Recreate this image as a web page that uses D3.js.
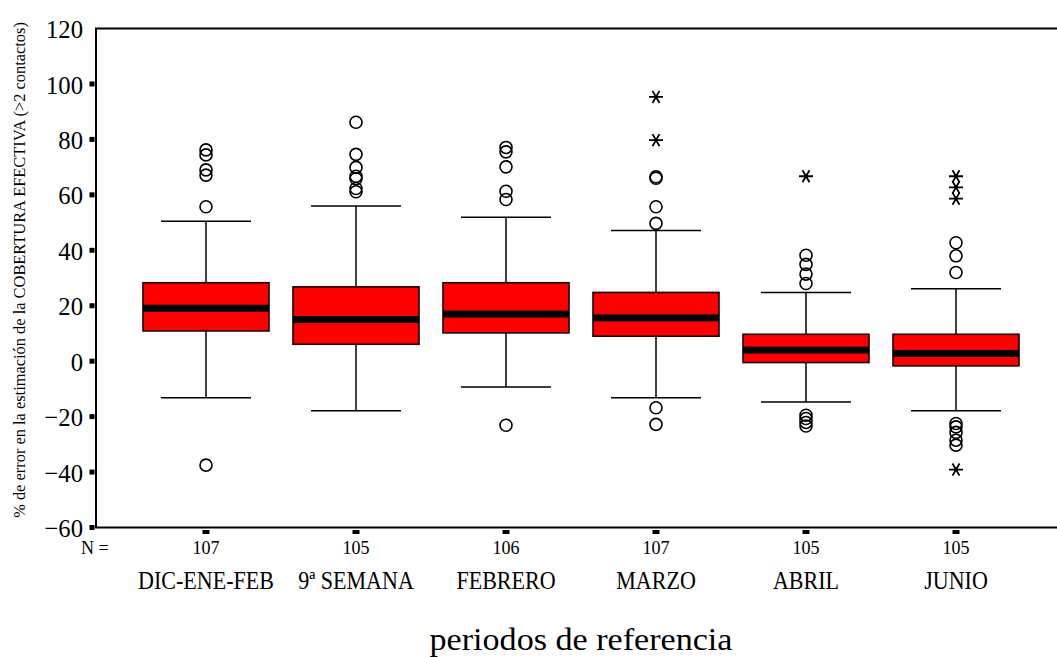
<!DOCTYPE html>
<html>
<head>
<meta charset="utf-8">
<script src="https://cdn.jsdelivr.net/npm/d3@7"></script>
<style>
  html, body { margin: 0; padding: 0; background: #fff; }
  svg { display: block; }
  text { font-family: "Liberation Serif", "Times New Roman", serif; fill: #000; }
</style>
</head>
<body>
<svg id="chart" width="1057" height="657"></svg>
<script>
// ---------------- data ----------------
const categories = ["DIC-ENE-FEB", "9ª SEMANA", "FEBRERO", "MARZO", "ABRIL", "JUNIO"];
const nCounts    = [107, 105, 106, 107, 105, 105];
const q1         = [10.9, 6.1, 10.2, 9.0, -0.5, -1.7];
const medians    = [19.1, 15.0, 17.0, 15.6, 4.0, 2.8];
const q3         = [28.3, 26.8, 28.3, 24.8, 9.7, 9.7];
const whiskerLow = [-13.2, -17.9, -9.3, -13.2, -14.7, -17.9];
const whiskerHigh= [50.5, 56.0, 51.9, 47.1, 24.8, 26.1];
const outliers = [
  [76.2, 74.4, 69.0, 67.1, 55.7, -37.5],
  [86.2, 74.6, 69.9, 66.7, 65.8, 62.3, 61.1],
  [77.1, 75.5, 70.1, 61.3, 58.3, -23.1],
  [66.5, 66.0, 55.7, 49.7, -16.8, -22.8],
  [38.2, 34.9, 31.4, 28.0, -19.5, -20.7, -22.1, -23.4],
  [42.7, 38.0, 32.0, -22.5, -23.7, -25.7, -28.5, -30.3]
];
const extremes = [
  [],
  [],
  [],
  [95.3, 79.7],
  [66.7],
  [66.7, 62.7, 58.6, -39.1]
];
const yTicks = [-60, -40, -20, 0, 20, 40, 60, 80, 100, 120];
const yTitle = "% de error en la estimación de la COBERTURA EFECTIVA (>2 contactos)";
const xTitle = "periodos de referencia";

// ---------------- layout ----------------
const frame = { left: 96, right: 1066, top: 28.5, bottom: 527.5 };
const svg = d3.select("#chart");

const y = d3.scaleLinear().domain([-60, 120]).range([frame.bottom, frame.top]);
const x = d3.scalePoint().domain(categories).range([frame.left, frame.right]).padding(0.7333);

const boxW = 126, capW = 90, medH = 7;

// frame (right side is beyond the picture)
svg.append("rect")
  .attr("x", frame.left).attr("y", frame.top)
  .attr("width", frame.right - frame.left).attr("height", frame.bottom - frame.top)
  .attr("fill", "none").attr("stroke", "#000").attr("stroke-width", 2);

// y axis labels via d3 axis
const yAxis = svg.append("g")
  .attr("transform", `translate(${frame.left},0)`)
  .call(d3.axisLeft(y).tickValues(yTicks).tickSize(0).tickPadding(0).tickFormat(d3.format("d")));
yAxis.select(".domain").remove();
yAxis.selectAll(".tick text")
  .attr("x", 0)
  .attr("dy", "0.35em")
  .attr("transform", "translate(-13,0) scale(0.95,1)")
  .style("font-size", "26px")
  .style("font-family", '"Liberation Serif", serif')
  .attr("text-anchor", "end");

// y tick squares (no square for the top value)
svg.append("g").selectAll("rect")
  .data(yTicks.filter(d => d < 120))
  .join("rect")
  .attr("x", frame.left - 6.5).attr("y", d => y(d) - 2.5)
  .attr("width", 5).attr("height", 5).attr("fill", "#000");

// bottom tick squares
svg.append("g").selectAll("rect")
  .data(categories)
  .join("rect")
  .attr("x", d => x(d) - 3.5).attr("y", frame.bottom + 2.5)
  .attr("width", 7).attr("height", 4).attr("fill", "#000");

// N labels
svg.append("g").attr("transform", `translate(81,554) scale(0.95,1)`)
  .append("text").style("font-size", "19px").text("N =");
svg.append("g").selectAll("g")
  .data(categories)
  .join("g")
  .attr("transform", (d) => `translate(${x(d)},554) scale(0.95,1)`)
  .append("text")
  .attr("text-anchor", "middle")
  .style("font-size", "19px")
  .text((d, i) => nCounts[i]);

// category labels
svg.append("g").selectAll("g")
  .data(categories)
  .join("g")
  .attr("transform", d => `translate(${x(d)},589) scale(0.9,1)`)
  .append("text")
  .attr("text-anchor", "middle")
  .style("font-size", "24.5px")
  .text(d => d);

// x title
svg.append("g").attr("transform", `translate(${(frame.left + frame.right) / 2},650) scale(1.1,1)`)
  .append("text").attr("text-anchor", "middle").style("font-size", "31px").text(xTitle);

// y title: measured, then condensed with a transform to the wanted length
const yTitleG = svg.append("g");
const yTitleT = yTitleG.append("text")
  .attr("text-anchor", "middle")
  .style("font-size", "17.5px")
  .text(yTitle);
const natural = yTitleT.node().getComputedTextLength() || 498;
const sx = 496 / natural;
yTitleG.attr("transform", `translate(25,270) rotate(-90) scale(${sx},1)`);

// boxes
const g = svg.append("g");
categories.forEach((c, i) => {
  const cx = x(c);
  // whisker stems
  g.append("line").attr("x1", cx).attr("x2", cx)
    .attr("y1", y(whiskerHigh[i])).attr("y2", y(q3[i]))
    .attr("stroke", "#000").attr("stroke-width", 1.5);
  g.append("line").attr("x1", cx).attr("x2", cx)
    .attr("y1", y(q1[i])).attr("y2", y(whiskerLow[i]))
    .attr("stroke", "#000").attr("stroke-width", 1.5);
  // caps
  [whiskerHigh[i], whiskerLow[i]].forEach(v => {
    g.append("line").attr("x1", cx - capW / 2).attr("x2", cx + capW / 2)
      .attr("y1", y(v)).attr("y2", y(v))
      .attr("stroke", "#000").attr("stroke-width", 1.5);
  });
  // box
  g.append("rect")
    .attr("x", cx - boxW / 2).attr("y", y(q3[i]))
    .attr("width", boxW).attr("height", y(q1[i]) - y(q3[i]))
    .attr("fill", "#ff0000").attr("stroke", "#1a0000").attr("stroke-width", 1.6);
  // median band
  g.append("rect")
    .attr("x", cx - boxW / 2).attr("y", y(medians[i]) - medH / 2)
    .attr("width", boxW).attr("height", medH)
    .attr("fill", "#000");
  // outliers
  outliers[i].forEach(v => {
    g.append("circle").attr("cx", cx).attr("cy", y(v)).attr("r", 6)
      .attr("fill", "none").attr("stroke", "#000").attr("stroke-width", 1.6);
  });
  // extremes (asterisks)
  extremes[i].forEach(v => {
    const L = 7;
    const p = d3.path();
    [0, 60, 120].forEach(a => {
      const r = a * Math.PI / 180;
      p.moveTo(cx - L * Math.cos(r), y(v) - L * Math.sin(r));
      p.lineTo(cx + L * Math.cos(r), y(v) + L * Math.sin(r));
    });
    g.append("path").attr("d", p.toString())
      .attr("stroke", "#000").attr("stroke-width", 1.8).attr("fill", "none");
  });
});
</script>
</body>
</html>
